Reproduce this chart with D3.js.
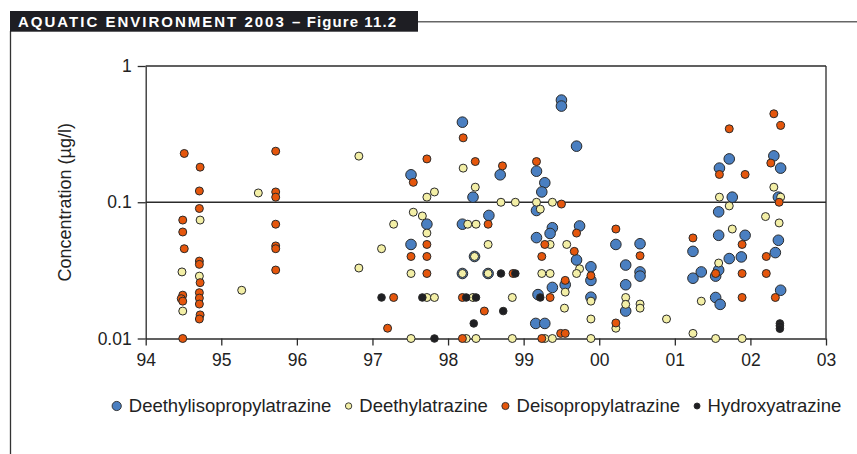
<!DOCTYPE html>
<html>
<head>
<meta charset="utf-8">
<script src="https://cdn.jsdelivr.net/npm/d3@7"></script>
<style>
  html, body { margin: 0; padding: 0; background: #fff; }
  svg { display: block; font-family: "Liberation Sans", Arial, Helvetica, sans-serif; }
</style>
</head>
<body>
<svg id="chart" width="857" height="454"></svg>
<script>
// Atrazine metabolites measured in surface waters, 1994–2003 (µg/l)
const figureTitle = "AQUATIC ENVIRONMENT 2003";
const figureNumber = "– Figure 11.2";
const yAxisTitle = "Concentration (µg/l)";
const xTickYears = [1994, 1995, 1996, 1997, 1998, 1999, 2000, 2001, 2002, 2003];
const yTickValues = [0.01, 0.1, 1];
const yTickLabels = ["0.01", "0.1", "1"];
const seriesNames = ["Deethylisopropylatrazine", "Deethylatrazine", "Deisopropylatrazine", "Hydroxyatrazine"];

// [decimal year, concentration]
const deethylisopropylatrazine = [
  [1997.51, 0.159], [1997.51, 0.049], [1997.72, 0.069],
  [1998.19, 0.387], [1998.33, 0.109], [1998.19, 0.069], [1998.35, 0.040], [1998.19, 0.030],
  [1998.53, 0.030], [1998.54, 0.080], [1998.69, 0.159],
  [1999.17, 0.169], [1999.28, 0.139], [1999.24, 0.119], [1999.17, 0.087], [1999.50, 0.562],
  [1999.50, 0.508], [1999.70, 0.258], [1999.17, 0.055], [1999.38, 0.065], [1999.35, 0.059],
  [1999.38, 0.0237], [1999.19, 0.021], [1999.16, 0.0129], [1999.28, 0.0129], [1999.55, 0.0248],
  [1999.70, 0.0377], [1999.74, 0.067], [1999.89, 0.0336], [1999.89, 0.0267], [1999.89, 0.0201],
  [2000.22, 0.049], [2000.35, 0.0346], [2000.35, 0.0248], [2000.35, 0.0159], [2000.54, 0.0496],
  [2000.54, 0.0308], [2000.54, 0.0287],
  [2001.24, 0.0436], [2001.24, 0.0277], [2001.35, 0.0308], [2001.54, 0.0287], [2001.58, 0.0318],
  [2001.54, 0.020], [2001.60, 0.0178], [2001.58, 0.085], [2001.58, 0.0572], [2001.59, 0.178],
  [2001.72, 0.208], [2001.76, 0.109], [2001.72, 0.0386], [2001.93, 0.0572], [2001.88, 0.0397],
  [2002.31, 0.219], [2002.40, 0.178], [2002.37, 0.109], [2002.37, 0.0526], [2002.33, 0.0427],
  [2002.40, 0.0226]
];

const deethylatrazine = [
  [1994.48, 0.0308], [1994.49, 0.0159], [1994.71, 0.0287], [1994.72, 0.074],
  [1995.27, 0.0226], [1995.49, 0.117],
  [1996.82, 0.218], [1996.82, 0.0329],
  [1997.12, 0.0456], [1997.28, 0.069], [1997.51, 0.010], [1997.54, 0.0845], [1997.66, 0.0793],
  [1997.72, 0.0594], [1997.51, 0.030], [1997.72, 0.020], [1997.82, 0.020], [1997.72, 0.109],
  [1997.82, 0.119],
  [1998.20, 0.178], [1998.36, 0.129], [1998.70, 0.100], [1998.89, 0.100], [1998.26, 0.069],
  [1998.37, 0.069], [1998.53, 0.049], [1998.35, 0.040], [1998.19, 0.030], [1998.53, 0.030],
  [1998.33, 0.020], [1998.85, 0.020], [1998.24, 0.010], [1998.37, 0.010], [1998.85, 0.010],
  [1999.17, 0.100], [1999.38, 0.100], [1999.22, 0.089], [1999.35, 0.049], [1999.57, 0.049],
  [1999.24, 0.030], [1999.35, 0.030], [1999.28, 0.010], [1999.38, 0.010], [1999.55, 0.0219],
  [1999.54, 0.0167], [1999.74, 0.0325], [1999.70, 0.030], [1999.89, 0.0188], [1999.89, 0.0139],
  [1999.89, 0.010],
  [2000.22, 0.0119], [2000.35, 0.020], [2000.35, 0.0178], [2000.54, 0.0179], [2000.54, 0.0167],
  [2000.89, 0.0139],
  [2001.24, 0.0109], [2001.35, 0.0188], [2001.58, 0.0358], [2001.54, 0.010], [2001.59, 0.109],
  [2001.72, 0.094], [2001.76, 0.0636], [2001.89, 0.010],
  [2002.31, 0.129], [2002.40, 0.109], [2002.20, 0.0785], [2002.38, 0.0705]
];

const deisopropylatrazine = [
  [1994.51, 0.228], [1994.49, 0.074], [1994.49, 0.0605], [1994.51, 0.0456], [1994.49, 0.0208],
  [1994.47, 0.0196], [1994.49, 0.0188], [1994.49, 0.010],
  [1994.72, 0.181], [1994.71, 0.121], [1994.71, 0.090], [1994.71, 0.037], [1994.71, 0.035],
  [1994.72, 0.0257], [1994.71, 0.0217], [1994.71, 0.0198], [1994.71, 0.0179], [1994.72, 0.0149],
  [1994.71, 0.0139],
  [1995.72, 0.237], [1995.72, 0.119], [1995.72, 0.109], [1995.72, 0.069], [1995.72, 0.0478],
  [1995.72, 0.0456], [1995.72, 0.0318],
  [1997.28, 0.020], [1997.20, 0.0119], [1997.54, 0.140], [1997.72, 0.049], [1997.51, 0.040],
  [1997.72, 0.040], [1997.72, 0.030], [1997.72, 0.208],
  [1998.20, 0.297], [1998.36, 0.199], [1998.72, 0.185], [1998.53, 0.069], [1998.86, 0.030],
  [1998.19, 0.020], [1998.48, 0.0159], [1998.19, 0.010],
  [1999.17, 0.199], [1999.50, 0.097], [1999.28, 0.049], [1999.24, 0.040], [1999.35, 0.020],
  [1999.24, 0.010], [1999.49, 0.0109], [1999.55, 0.0109], [1999.55, 0.0267], [1999.67, 0.0436],
  [1999.70, 0.0594], [1999.89, 0.0289],
  [2000.22, 0.0636], [2000.22, 0.0130], [2000.54, 0.0405],
  [2001.24, 0.0547], [2001.54, 0.030], [2001.59, 0.160], [2001.72, 0.346], [2001.89, 0.049],
  [2001.89, 0.030], [2001.89, 0.020], [2001.93, 0.160],
  [2002.31, 0.446], [2002.40, 0.366], [2002.27, 0.194], [2002.38, 0.100], [2002.21, 0.040],
  [2002.21, 0.030], [2002.33, 0.020]
];

const hydroxyatrazine = [
  [1997.12, 0.020], [1997.66, 0.020], [1997.82, 0.010],
  [1998.70, 0.030], [1998.89, 0.030], [1998.24, 0.020], [1998.37, 0.020], [1998.73, 0.0159],
  [1998.34, 0.0129],
  [1999.22, 0.020],
  [2002.39, 0.0129], [2002.39, 0.0124], [2002.39, 0.0118]
];

const series = [
  { name: seriesNames[0], data: deethylisopropylatrazine, fill: "#4a7fc1", r: 5.3, lr: 4.6 },
  { name: seriesNames[1], data: deethylatrazine,          fill: "#f3efa6", r: 4.0, lr: 3.2 },
  { name: seriesNames[2], data: deisopropylatrazine,      fill: "#e5560c", r: 4.0, lr: 3.6 },
  { name: seriesNames[3], data: hydroxyatrazine,          fill: "#1f1f22", r: 3.8, lr: 3.0 }
];

const svg = d3.select("#chart");
const ink = "#2b2b2b";
const textInk = "#222";

// ---- page furniture: title tab, rules ----
svg.append("line")
  .attr("x1", 418).attr("x2", 857).attr("y1", 21.7).attr("y2", 21.7)
  .attr("stroke", "#666").attr("stroke-width", 1.6);
svg.append("line")
  .attr("x1", 10.5).attr("x2", 10.5).attr("y1", 31).attr("y2", 454)
  .attr("stroke", "#333").attr("stroke-width", 1.3);
svg.append("rect")
  .attr("x", 10).attr("y", 11).attr("width", 408).attr("height", 20.7)
  .attr("fill", "#1e1e23");
const title = svg.append("text")
  .attr("x", 18).attr("y", 26.8)
  .attr("fill", "#fff").attr("font-weight", "bold").attr("font-size", 15);
title.append("tspan").attr("letter-spacing", 2).text(figureTitle + " ");
title.append("tspan").attr("letter-spacing", 1.1).text(figureNumber);

// ---- scales ----
const plot = { left: 145.7, right: 826, top: 66, bottom: 338.5 };
const x = d3.scaleLinear().domain([1994, 2003]).range([plot.left, plot.right]);
const y = d3.scaleLog().domain([0.01, 1]).range([plot.bottom, plot.top]);

// frame and 0.1 reference line
const frame = svg.append("g").attr("stroke", ink).attr("stroke-width", 1.3).attr("fill", "none");
frame.append("line").attr("x1", plot.left).attr("x2", plot.right).attr("y1", y(1)).attr("y2", y(1));
frame.append("line").attr("x1", plot.right).attr("x2", plot.right).attr("y1", y(1)).attr("y2", y(0.01));
frame.append("line").attr("x1", plot.left).attr("x2", plot.right).attr("y1", y(0.1)).attr("y2", y(0.1));

// ---- axes ----
const xAxis = d3.axisBottom(x)
  .tickValues(xTickYears)
  .tickFormat(d => String(d).slice(2))
  .tickSizeInner(7).tickSizeOuter(0).tickPadding(8);
const gx = svg.append("g").attr("transform", `translate(0,${plot.bottom})`).call(xAxis);

const yAxis = d3.axisLeft(y)
  .tickValues(yTickValues)
  .tickFormat((d, i) => yTickLabels[i])
  .tickSizeInner(8).tickSizeOuter(0).tickPadding(6);
const gy = svg.append("g").attr("transform", `translate(${plot.left},0)`).call(yAxis);

[gx, gy].forEach(g => {
  g.select(".domain").attr("stroke", ink).attr("stroke-width", 1.3);
  g.selectAll(".tick line").attr("stroke", ink).attr("stroke-width", 1.3);
  g.selectAll(".tick text")
    .attr("fill", textInk)
    .attr("font-size", 17.5)
    .attr("font-family", '"Liberation Sans", Arial, sans-serif');
});

svg.append("text")
  .attr("transform", `translate(65,${(plot.top + plot.bottom) / 2}) rotate(-90)`)
  .attr("text-anchor", "middle").attr("dy", "0.35em")
  .attr("font-size", 18).attr("fill", textInk)
  .text(yAxisTitle);

// ---- points ----
const marks = svg.append("g");
series.forEach(s => {
  marks.append("g").selectAll("circle")
    .data(s.data)
    .join("circle")
    .attr("cx", d => x(d[0]))
    .attr("cy", d => y(d[1]))
    .attr("r", s.r)
    .attr("fill", s.fill)
    .attr("stroke", "#2a2a2a")
    .attr("stroke-width", 1);
});

// ---- legend ----
const legend = svg.append("g").attr("transform", "translate(0,406)");
let cursor = 116.7;
series.forEach((s, i) => {
  const item = legend.append("g");
  item.append("circle")
    .attr("cx", cursor).attr("cy", 0).attr("r", s.lr)
    .attr("fill", s.fill).attr("stroke", "#2a2a2a").attr("stroke-width", 0.9);
  const tx = cursor + s.lr + 7.5;
  const t = item.append("text")
    .attr("x", tx).attr("y", 0).attr("dy", "0.35em")
    .attr("font-size", 18.5).attr("fill", textInk)
    .text(s.name);
  const w = t.node().getComputedTextLength();
  if (i + 1 < series.length) cursor = tx + w + 14 + series[i + 1].lr;
});
</script>
</body>
</html>
